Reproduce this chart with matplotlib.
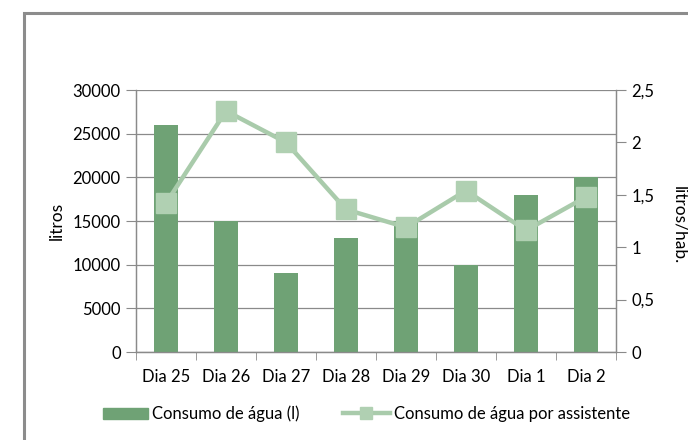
import matplotlib
matplotlib.use("Agg")
import matplotlib.pyplot as plt
from matplotlib.patches import Rectangle
from matplotlib.lines import Line2D
from matplotlib.patches import Patch
import numpy as np

categories = ["Dia 25", "Dia 26", "Dia 27", "Dia 28", "Dia 29", "Dia 30", "Dia 1", "Dia 2"]
consumo = [26000, 15000, 9000, 13000, 15000, 10000, 18000, 20000]
por_assistente = [1.42, 2.30, 2.00, 1.36, 1.19, 1.54, 1.16, 1.48]
left_ticks = [0, 5000, 10000, 15000, 20000, 25000, 30000]
right_ticks = [0, 0.5, 1, 1.5, 2, 2.5]
right_labels = ["0", "0,5", "1", "1,5", "2", "2,5"]

plt.rcParams['font.family'] = ['Lato', 'DejaVu Sans']
W, H = 688, 440
fig = plt.figure(figsize=(W/100, H/100), dpi=100)
fig.patch.set_facecolor("white")

# outer frame
fig.patches.append(Rectangle((24/W, -0.1), 1.2, (H-13)/H + 0.1, transform=fig.transFigure,
                             fill=False, edgecolor="#8c8c8c", linewidth=2.2, zorder=0))

x0, x1, ytop, ybot = 136, 616, 90, 352
ax = fig.add_axes([x0/W, (H-ybot)/H, (x1-x0)/W, (ybot-ytop)/H])
ax2 = ax.twinx()

bar_color = "#6fa275"
line_color = "#a9cbab"
marker_color = "#b0d0b2"
grid_color = "#8a8a8a"
tick_fs = 12

xs = np.arange(len(categories))
ax.bar(xs, consumo, width=0.4, color=bar_color, zorder=3)
ax.set_xlim(-0.5, len(categories) - 0.5)
ax.set_ylim(0, 30000)
ax.set_yticks(left_ticks)
ax.set_yticklabels([str(v) for v in left_ticks], fontsize=tick_fs)
ax.yaxis.grid(True, color=grid_color, linewidth=0.9, zorder=0)
ax.set_axisbelow(True)
ax.set_xticks(xs)
ax.set_xticklabels(categories, fontsize=tick_fs)
ax.tick_params(axis='x', which='major', length=0, pad=12)
ax.set_xticks(np.arange(-0.5, len(categories)), minor=True)
ax.tick_params(axis='x', which='minor', length=6, color=grid_color, direction='out')
ax.tick_params(axis='y', length=7, color=grid_color, pad=4)
ax.set_ylabel("litros", fontsize=12.5, labelpad=6)

ax2.plot(xs, por_assistente, color=line_color, linewidth=3.2, marker='s', markersize=15,
         markerfacecolor=marker_color, markeredgecolor=marker_color, zorder=4)
ax2.set_ylim(0, 2.5)
ax2.set_yticks(right_ticks)
ax2.set_yticklabels(right_labels, fontsize=tick_fs)
ax2.tick_params(axis='y', length=7, color=grid_color, pad=4)

for a in (ax, ax2):
    for s in ("left", "right", "bottom"):
        a.spines[s].set_color(grid_color)
        a.spines[s].set_linewidth(0.9)
    a.spines["top"].set_visible(False)

fig.text(679/W, 1 - 225/H, "litros/hab.", rotation=-90, fontsize=12.5,
         ha="center", va="center")

leg_fs = 12
h1 = Patch(facecolor=bar_color, edgecolor=bar_color)
h2 = Line2D([0], [0], color=line_color, linewidth=3.2, marker='s', markersize=9,
            markerfacecolor=marker_color, markeredgecolor=marker_color)
ly = 1 - 414/H
leg1 = fig.legend([h1], ["Consumo de água (l)"], loc="center left",
                  bbox_to_anchor=(103/W, ly), frameon=False, fontsize=leg_fs,
                  handlelength=2.7, handleheight=0.7, handletextpad=0.25,
                  borderpad=0, borderaxespad=0)
leg2 = fig.legend([h2], ["Consumo de água por assistente"], loc="center left",
                  bbox_to_anchor=(343/W, ly), frameon=False, fontsize=leg_fs,
                  handlelength=2.8, handletextpad=0.25,
                  borderpad=0, borderaxespad=0)

fig.savefig("out.png", dpi=100, facecolor="white")
